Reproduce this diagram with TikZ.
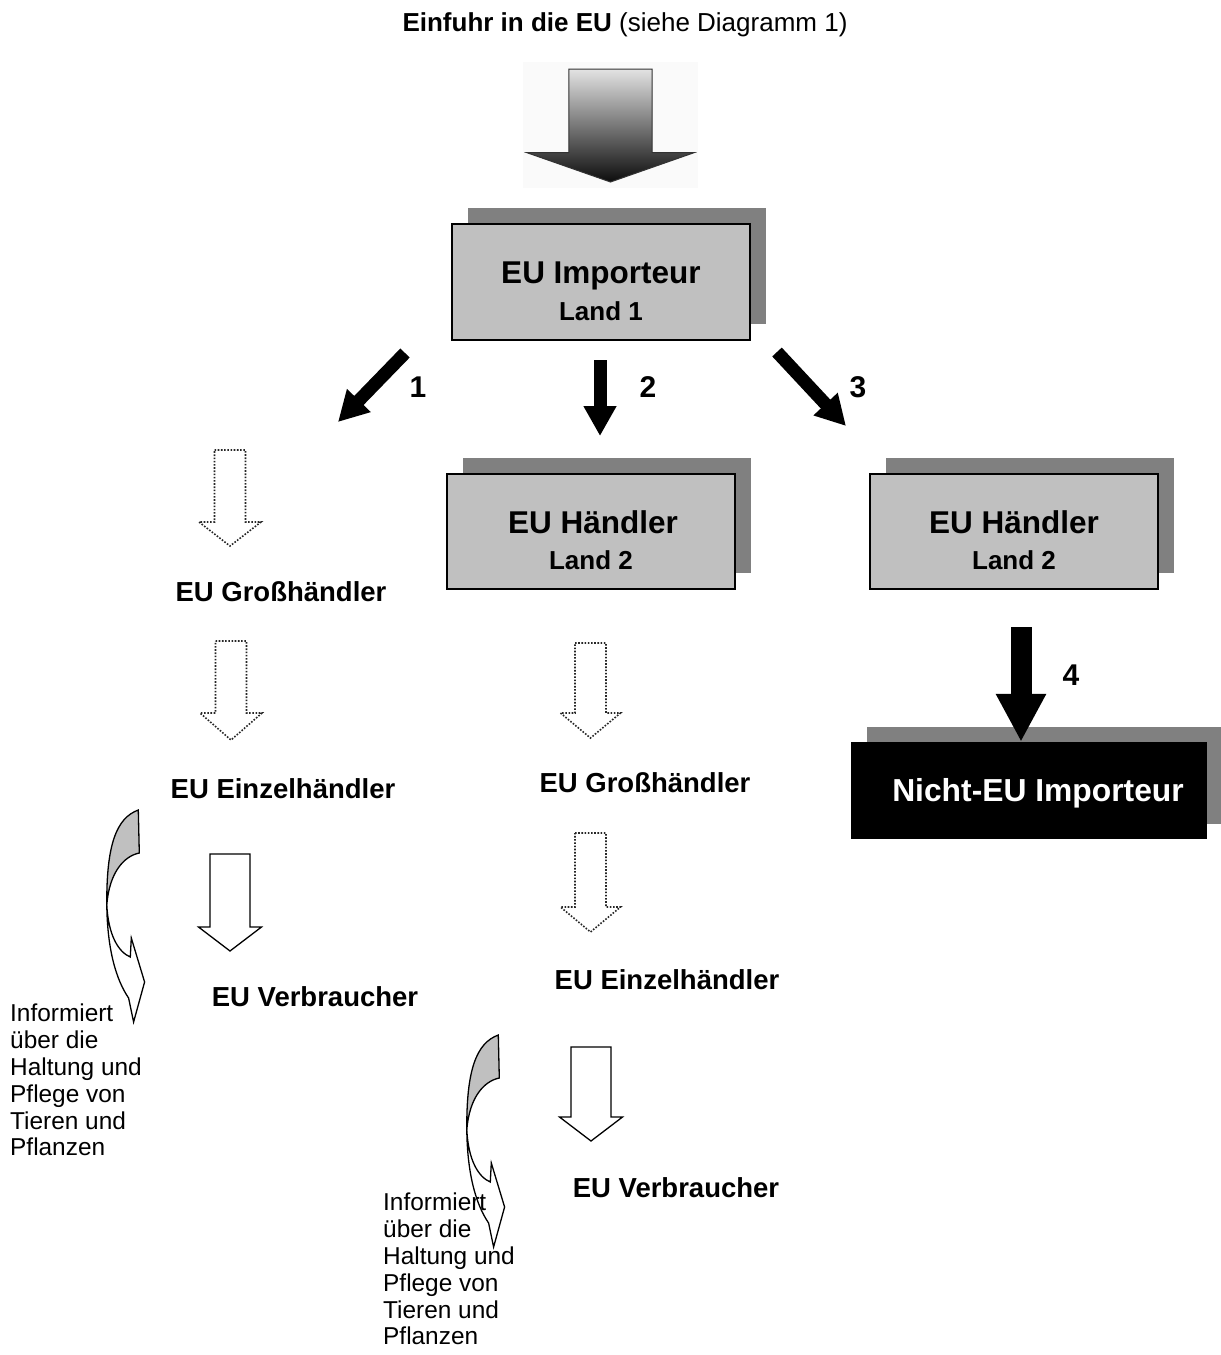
\documentclass[tikz,border=0pt]{standalone}
\usepackage{fontspec}
\setmainfont{Liberation Sans}
\usetikzlibrary{arrows.meta,shadows}
\definecolor{boxgray}{HTML}{C0C0C0}
\definecolor{shadegray}{HTML}{808080}

\begin{document}
\begin{tikzpicture}[x=1pt,y=-1pt]
    \tikzstyle{box}=[draw=black,line width=1.4pt,fill=boxgray,rectangle,inner sep=0,
        general shadow={fill=shadegray,shadow xshift=16pt,shadow yshift=16pt}]
    \tikzstyle{darkbox}=[fill=black,rectangle,inner sep=0,
        general shadow={fill=shadegray,shadow xshift=16pt,shadow yshift=15pt}]
    \tikzstyle{boxhead}=[anchor=base,inner sep=0,font=\fontsize{31.5}{36}\selectfont\bfseries]
    \tikzstyle{boxsub}=[anchor=base,inner sep=0,font=\fontsize{26}{30}\selectfont\bfseries]
    \tikzstyle{stage}=[anchor=center,inner sep=0,font=\fontsize{27.5}{30}\selectfont\bfseries]
    \tikzstyle{note}=[anchor=north west,align=left,inner sep=0,font=\fontsize{24.4}{26.8}\selectfont]
    \tikzstyle{num}=[inner sep=0,font=\fontsize{30}{34}\selectfont\bfseries]
    \tikzstyle{flow}=[line width=13pt,-{Triangle[width=31pt,length=30pt]}]
    \tikzstyle{dots}=[draw=black!85,line width=1.6pt,dash pattern=on 1.6pt off 1.6pt,fill=white]
    \tikzstyle{plain}=[draw=black,line width=1.3pt,fill=white]
    % style, centre x, top, head start, tip, half shaft, half head
    \newcommand{\blockarrow}[7]{
        \path[#1] (#2-#6,#3) -- (#2+#6,#3) -- (#2+#6,#4) -- (#2+#7,#4) -- (#2,#5)
            -- (#2-#7,#4) -- (#2-#6,#4) -- cycle;
    }
    \newcommand{\infoarrow}[2]{
        \begin{scope}[shift={(#1,#2)}]
            \path[plain] (-31.5,95) .. controls (-31,140) and (-22,170) .. (-9.7,188)
                -- (-4.7,212) -- (6.3,172) -- (-7,128) -- (-8,147)
                .. controls (-20,142) and (-30,125) .. (-31.5,95) -- cycle;
            \path[plain,fill=boxgray] (0,0) .. controls (-22,8) and (-32,35) .. (-31.5,95)
                .. controls (-29,62) and (-14,46) .. (1,43) -- cycle;
        \end{scope}
    }
    \useasboundingbox (0,0) rectangle (1221,1355);

    \node[anchor=base,inner sep=0,font=\fontsize{26}{30}\selectfont] (title) at (625,31)
        {\bfseries Einfuhr in die EU\mdseries{} (siehe Diagramm 1)};
    \fill[gray!4] (523,62) rectangle (698,188);
    \blockarrow{top color=gray!22,bottom color=black!95,draw=black!80,line width=1pt}{610.5}{69}{152.7}{182}{41.7}{83.5}

    % boxes
    \node[box,minimum width=298pt,minimum height=116pt] (imp) at (601,282) {};
    \node[boxhead,yshift=-1pt] (imphead) at (imp.center) {EU Importeur};
    \node[boxsub,yshift=-38pt] (impsub) at (imp.center) {Land 1};

    \node[box,minimum width=288pt,minimum height=115pt] (hand) at (591,531.5) {};
    \node[boxhead,yshift=-2pt,xshift=2pt] (handhead) at (hand.center) {EU Händler};
    \node[boxsub,yshift=-38pt] (handsub) at (hand.center) {Land 2};

    \node[box,minimum width=288pt,minimum height=115pt] (handr) at (1014,531.5) {};
    \node[boxhead,yshift=-2pt] (handrhead) at (handr.center) {EU Händler};
    \node[boxsub,yshift=-38pt] (handrsub) at (handr.center) {Land 2};

    \node[darkbox,minimum width=356pt,minimum height=97pt] (noneu) at (1029,790.5) {};
    \node[anchor=base,inner sep=0,white,font=\fontsize{31.8}{36}\selectfont\bfseries,
        xshift=9pt,yshift=-11pt] (noneuhead) at (noneu.center) {Nicht-EU Importeur};

    % numbered arrows
    \coordinate (a1s) at (405,353);
    \coordinate (a1e) at (338,422);
    \coordinate (a2s) at (600,360);
    \coordinate (a2e) at (600,436);
    \coordinate (a3s) at (777,352);
    \coordinate (a3e) at (846,426);
    \draw[flow] (a1s) -- (a1e);
    \draw[flow] (a2s) -- (a2e);
    \draw[flow] (a3s) -- (a3e);
    \node[num] (n1) at (418,387) {1};
    \node[num] (n2) at (648,387) {2};
    \node[num] (n3) at (858,387) {3};
    \coordinate (a4s) at (1021,627);
    \draw[line width=21pt,-{Triangle[width=47pt,length=48pt]}] (a4s) -- (noneu.north -| a4s);
    \node[num] (n4) at (1071,675) {4};

    % left chain
    \blockarrow{dots}{230}{450}{522}{546}{15.5}{31}
    \node[stage] (gross1) at (281,592) {EU Großhändler};
    \blockarrow{dots}{231}{641}{713}{740}{15.5}{31}
    \node[stage] (einzel1) at (283,789) {EU Einzelhändler};
    \blockarrow{plain}{230}{854}{927}{951}{20}{31.5}
    \node[stage] (verb1) at (315,997) {EU Verbraucher};
    \infoarrow{138.3}{810}
    \node[note] (info1) at (10,1004) {Informiert\\über die\\Haltung und\\Pflege von\\Tieren und\\Pflanzen};

    % middle chain
    \blockarrow{dots}{590.5}{643}{713}{738}{15.5}{30}
    \node[stage] (gross2) at (645,783) {EU Großhändler};
    \blockarrow{dots}{590.5}{833}{907}{932}{15.5}{30}
    \node[stage] (einzel2) at (667,980) {EU Einzelhändler};
    \blockarrow{plain}{591}{1047}{1117}{1141}{20}{31.5}
    \node[stage] (verb2) at (676,1188) {EU Verbraucher};
    \infoarrow{498.3}{1035}
    \node[note] (info2) at (383,1193) {Informiert\\über die\\Haltung und\\Pflege von\\Tieren und\\Pflanzen};
\end{tikzpicture}
\end{document}
